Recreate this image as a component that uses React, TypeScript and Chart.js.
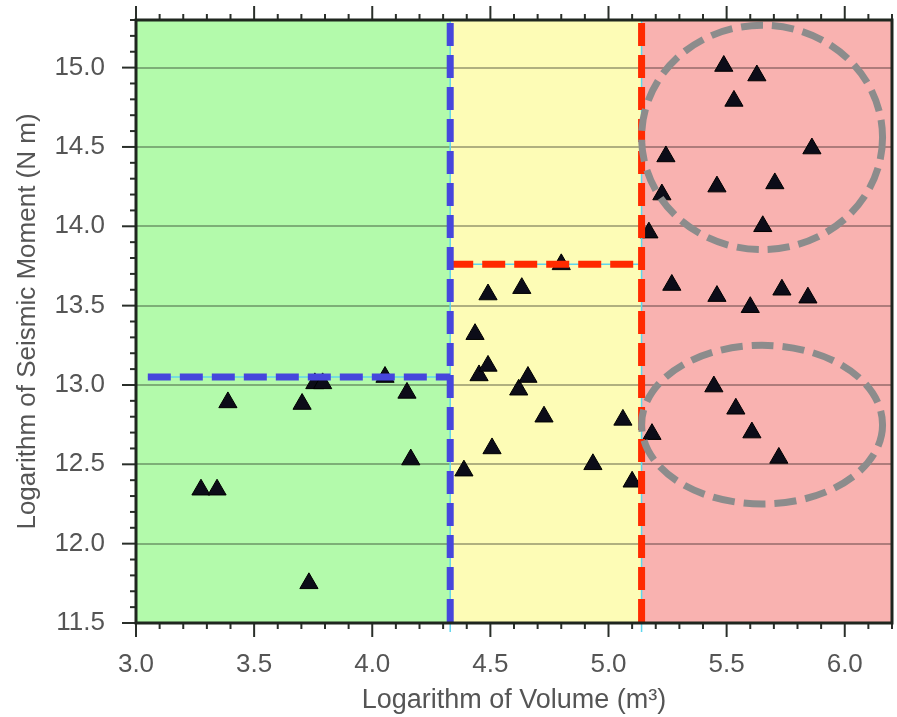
import React, { useEffect, useRef } from 'react';
import { Chart, registerables } from 'chart.js';

Chart.register(...registerables);

// Scatter data: log10 volume (m^3) vs log10 seismic moment (N m)
const volumeLog = [
  3.275, 3.343, 3.389, 3.703, 3.732, 3.757, 3.79, 4.054, 4.147, 4.163,
  4.388, 4.435, 4.452, 4.49, 4.49, 4.507, 4.62, 4.633, 4.659, 4.727, 4.8, 4.934, 5.061, 5.1,
  5.171, 5.184, 5.226, 5.243, 5.268, 5.446, 5.459, 5.459, 5.488, 5.531, 5.539, 5.6, 5.607, 5.628,
  5.653, 5.704, 5.721, 5.734, 5.844, 5.861,
];
const momentLog = [
  12.34, 12.34, 12.89, 12.88, 11.75, 13.01, 13.01, 13.05, 12.95, 12.53,
  12.46, 13.32, 13.06, 13.12, 13.57, 12.6, 12.97, 13.61, 13.05, 12.8, 13.76, 12.5, 12.78, 12.39,
  13.96, 12.69, 14.2, 14.44, 13.63, 12.99, 14.25, 13.56, 15.01, 14.79, 12.85, 13.49, 12.7, 14.95,
  14.0, 14.27, 12.54, 13.6, 13.55, 14.49,
];

const xTickValues = [3.0, 3.5, 4.0, 4.5, 5.0, 5.5, 6.0];
const yTickValues = [11.5, 12.0, 12.5, 13.0, 13.5, 14.0, 14.5, 15.0];
const xRange = [3.0, 6.2];
const yRange = [11.5, 15.3];

const zoneBounds = [3.0, 4.33, 5.14, 6.2];
const zoneColors = ['#b3faab', '#fdfcb6', '#f9b2b0'];

const blueLineX = 4.33;
const redLineX = 5.14;
const blueLineY = 13.05;
const blueLineStartX = 3.05;
const redLineY = 13.76;

const clusterCentersX = [5.65, 5.65];
const clusterCentersY = [14.56, 12.75];
const clusterRadiiX = [0.51, 0.51];
const clusterRadiiY = [0.707, 0.5];

const FONT = "'Liberation Sans', Arial, Helvetica, sans-serif";
const TEXT = '#555555';

const overlayPlugin = {
  id: 'overlay',
  beforeDraw(chart: any) {
    const { ctx, chartArea } = chart;
    const x = chart.scales.x;
    ctx.save();
    for (let i = 0; i < zoneColors.length; i++) {
      const x0 = x.getPixelForValue(zoneBounds[i]);
      const x1 = x.getPixelForValue(zoneBounds[i + 1]);
      ctx.fillStyle = zoneColors[i];
      ctx.fillRect(x0, chartArea.top, x1 - x0, chartArea.bottom - chartArea.top);
    }
    ctx.restore();
  },
  afterDatasetsDraw(chart: any) {
    const { ctx, chartArea } = chart;
    const x = chart.scales.x;
    const y = chart.scales.y;
    const { top, bottom } = chartArea;
    ctx.save();
    const seg = (x0: number, y0: number, x1: number, y1: number, color: string, w: number, dash: number[]) => {
      ctx.beginPath();
      ctx.setLineDash(dash);
      ctx.strokeStyle = color;
      ctx.lineWidth = w;
      ctx.moveTo(x0, y0);
      ctx.lineTo(x1, y1);
      ctx.stroke();
    };
    const bx = x.getPixelForValue(blueLineX);
    const rx = x.getPixelForValue(redLineX);
    const by = y.getPixelForValue(blueLineY);
    const ry = y.getPixelForValue(redLineY);
    const bStart = x.getPixelForValue(blueLineStartX);
    const dash = [23, 9];
    seg(bx, top, bx, bottom + 9, '#5fd6ee', 1.5, []);
    seg(rx, top, rx, bottom + 9, '#5fd6ee', 1.5, []);
    seg(bStart, by, bx, by, '#5fd6ee', 1.5, []);
    seg(bx, ry, rx, ry, '#5fd6ee', 1.5, []);
    seg(bStart, by, bx, by, '#4646dc', 7, dash);
    seg(bx, ry, rx, ry, '#ff2a00', 7, dash);
    seg(bx, top + 3, bx, bottom, '#4646dc', 7, dash);
    seg(rx, top + 3, rx, bottom, '#ff2a00', 7, dash);
    for (let i = 0; i < clusterCentersX.length; i++) {
      const cx = x.getPixelForValue(clusterCentersX[i]);
      const cy = y.getPixelForValue(clusterCentersY[i]);
      const ex = Math.abs(x.getPixelForValue(clusterCentersX[i] + clusterRadiiX[i]) - cx);
      const ey = Math.abs(y.getPixelForValue(clusterCentersY[i] + clusterRadiiY[i]) - cy);
      ctx.beginPath();
      ctx.setLineDash([22, 9]);
      ctx.strokeStyle = '#8c8c8c';
      ctx.lineWidth = 7;
      ctx.ellipse(cx, cy, ex, ey, 0, 0, Math.PI * 2);
      ctx.stroke();
    }
    ctx.restore();
  },
  afterDraw(chart: any) {
    const { ctx, chartArea } = chart;
    const x = chart.scales.x;
    const y = chart.scales.y;
    const { left, right, top, bottom } = chartArea;
    ctx.save();
    ctx.setLineDash([]);
    ctx.strokeStyle = '#2a2f2a';
    ctx.lineWidth = 2;
    const tick = (x0: number, y0: number, x1: number, y1: number) => {
      ctx.beginPath();
      ctx.moveTo(x0, y0);
      ctx.lineTo(x1, y1);
      ctx.stroke();
    };
    for (let k = Math.round(xRange[0] * 10); k <= Math.round(xRange[1] * 10); k++) {
      const v = k / 10;
      const major = xTickValues.some((t) => Math.abs(t - v) < 1e-6);
      const len = major ? 14 : 6;
      const px = x.getPixelForValue(v);
      tick(px, bottom, px, bottom + len);
      tick(px, top, px, top - len);
    }
    for (let k = Math.round(yRange[0] * 10); k <= Math.round(yRange[1] * 10); k++) {
      const v = k / 10;
      const major = yTickValues.some((t) => Math.abs(t - v) < 1e-6);
      const len = major ? 14 : 6;
      const py = y.getPixelForValue(v);
      tick(left, py, left - len, py);
    }
    ctx.strokeStyle = '#1f261f';
    ctx.lineWidth = 3;
    ctx.strokeRect(left, top, right - left, bottom - top);
    ctx.restore();
  },
};

const zeroPad = (s: any) => {
  s.paddingTop = 0;
  s.paddingBottom = 0;
  s.paddingLeft = 0;
  s.paddingRight = 0;
};

export default function App() {
  const canvasRef = useRef<HTMLCanvasElement | null>(null);

  useEffect(() => {
    const canvas = canvasRef.current;
    if (!canvas) return;
    const points = volumeLog.map((v, i) => ({ x: v, y: momentLog[i] }));
    const chart = new Chart(canvas, {
      type: 'scatter',
      data: {
        datasets: [
          {
            data: points,
            pointStyle: 'triangle',
            pointRadius: 10.5,
            pointHoverRadius: 10.5,
            backgroundColor: '#0c0c18',
            borderColor: '#000000',
            borderWidth: 1,
          },
        ],
      },
      options: {
        responsive: false,
        animation: false,
        devicePixelRatio: 1,
        layout: { autoPadding: false, padding: { top: 20, right: 5, left: 0, bottom: 0 } },
        plugins: { legend: { display: false }, tooltip: { enabled: false } },
        scales: {
          x: {
            type: 'linear',
            position: 'bottom',
            min: xRange[0],
            max: xRange[1],
            afterFit: (s: any) => { s.height = 94; zeroPad(s); },
            grid: { display: false, drawTicks: false },
            border: { display: false },
            ticks: {
              stepSize: 0.5,
              includeBounds: false,
              padding: 26,
              color: TEXT,
              font: { family: FONT, size: 26 },
              callback: (v: any) => Number(v).toFixed(1),
            },
            title: {
              display: true,
              text: 'Logarithm of Volume (m³)',
              color: TEXT,
              font: { family: FONT, size: 27 },
              padding: { top: 0, bottom: 0 },
            },
          },
          y: {
            type: 'linear',
            position: 'left',
            min: yRange[0],
            max: yRange[1],
            afterFit: (s: any) => { s.width = 136; zeroPad(s); },
            grid: { color: 'rgba(0,0,0,0.3)', lineWidth: 2, drawTicks: false },
            border: { display: false },
            ticks: {
              stepSize: 0.5,
              includeBounds: false,
              padding: 31,
              color: TEXT,
              font: { family: FONT, size: 26 },
              callback: (v: any) => Number(v).toFixed(1),
            },
            title: {
              display: true,
              text: 'Logarithm of Seismic Moment (N m)',
              color: TEXT,
              font: { family: FONT, size: 26 },
              padding: { top: 12, bottom: 0 },
            },
          },
        },
      },
      plugins: [overlayPlugin],
    });
    return () => chart.destroy();
  }, []);

  return (
    <div style={{ position: 'absolute', left: 0, top: 0, width: 897, height: 717, background: '#ffffff' }}>
      <canvas ref={canvasRef} width={897} height={717} style={{ display: 'block' }} />
    </div>
  );
}
